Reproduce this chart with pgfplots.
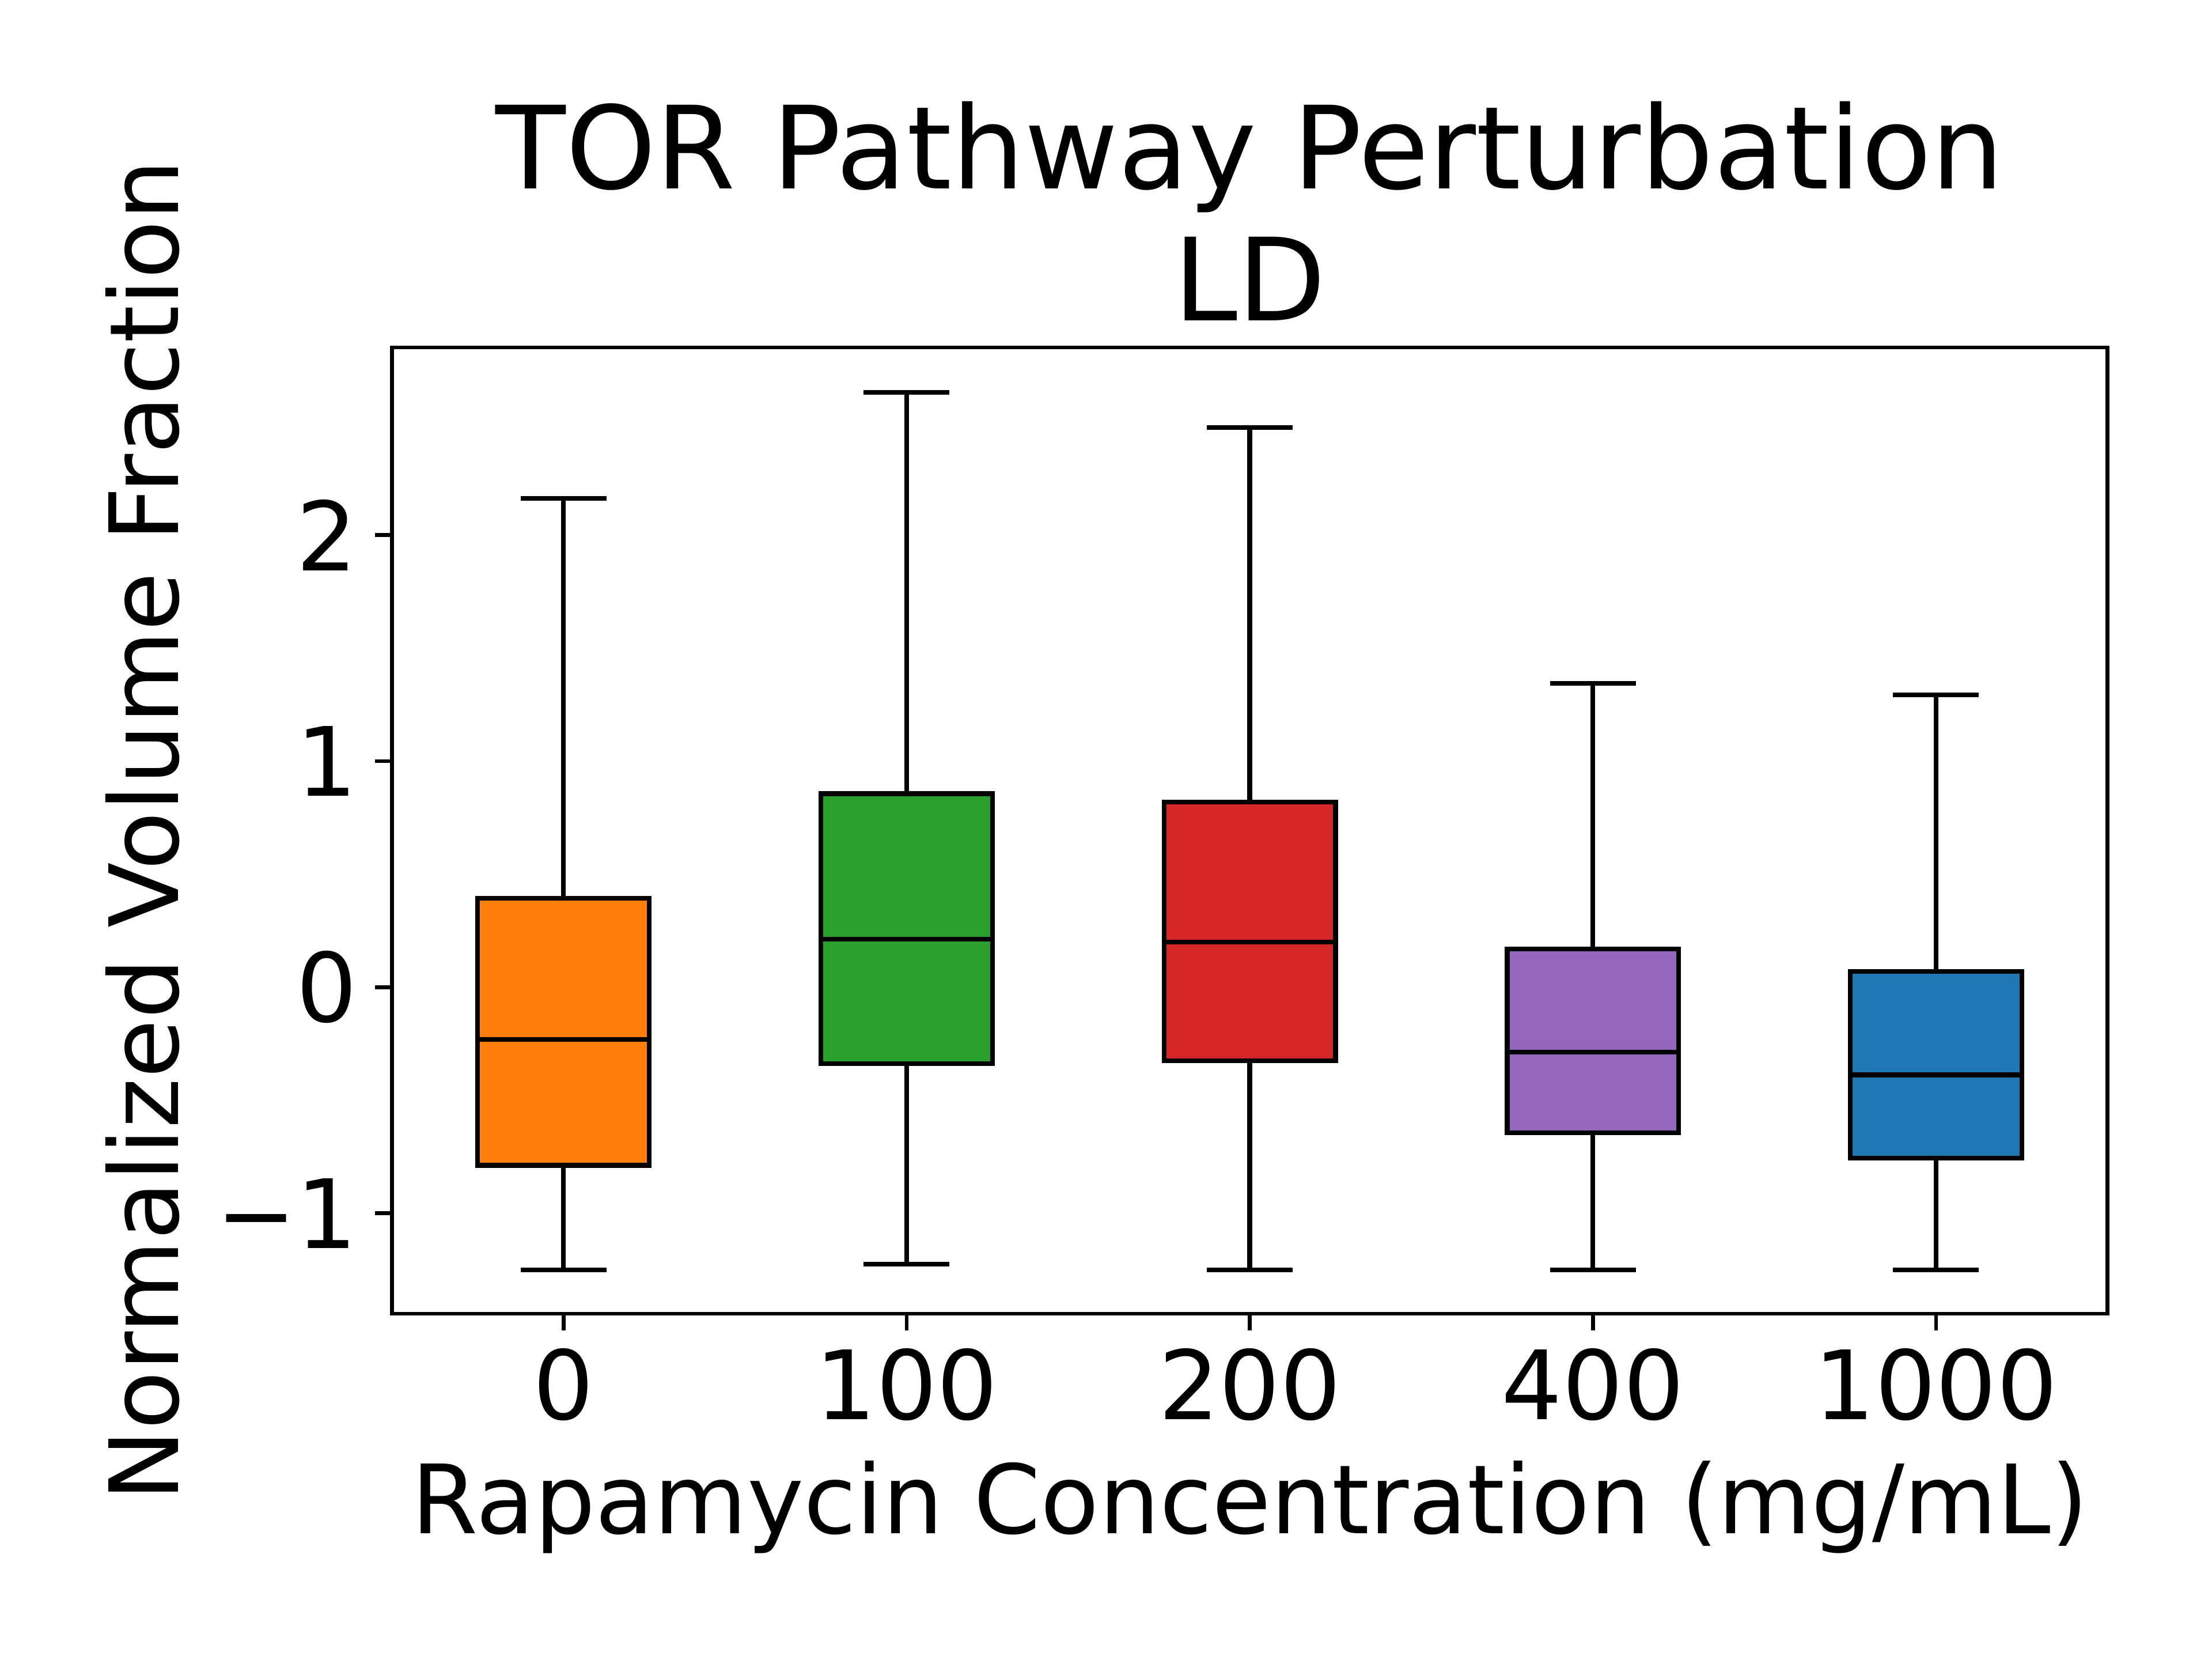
\documentclass[border=0pt]{standalone}
\usepackage{fontspec}
\setmainfont{DejaVu Sans}
\usepackage{pgfplots}
\pgfplotsset{compat=1.18}
\usepgfplotslibrary{statistics}
\definecolor{cA}{HTML}{FF7F0E}
\definecolor{cB}{HTML}{2CA02C}
\definecolor{cC}{HTML}{D62728}
\definecolor{cD}{HTML}{9467BD}
\definecolor{cE}{HTML}{1F77B4}
\begin{document}
\begin{tikzpicture}
\begin{axis}[
  at={(0,0)}, anchor=south west,
  scale only axis,
  width=4.964in, height=2.795in,
  xmin=-0.5, xmax=4.5, ymin=-1.444, ymax=2.83,
  xtick={0,1,2,3,4},
  xticklabels={0,100,200,400,1000},
  ytick={-1,0,1,2},
  yticklabels={−1,0,1,2},
  tick align=outside,
  major tick length=3.5pt,
  every tick/.style={black, line width=0.8pt},
  xtick pos=bottom, ytick pos=left,
  axis line style={line width=0.8pt},
  tick label style={font=\fontsize{20}{24}\selectfont},
  xticklabel style={inner sep=0pt, anchor=north, yshift=-3.5pt},
  yticklabel style={inner sep=0pt, anchor=east, xshift=-3.5pt},
  title={TOR Pathway Perturbation\\LD},
  title style={font=\fontsize{24}{27.6}\selectfont, align=center, at={(rel axis cs:0.5,1)}, anchor=south, inner sep=0pt, yshift=-0.6pt},
  xlabel={Rapamycin Concentration (mg/mL)},
  xlabel style={font=\fontsize{20}{24}\selectfont, at={(rel axis cs:0.5,0)}, anchor=base, inner sep=0pt, yshift=-46pt},
  ylabel={Normalized Volume Fraction},
  ylabel style={font=\fontsize{20}{24}\selectfont, at={(rel axis cs:0,0.5)}, anchor=base, inner sep=0pt, yshift=44.7pt},
  boxplot/draw direction=y,
  boxplot/box extend=0.5,
  boxplot/whisker extend=0.25,
]
\addplot[draw=black, fill=cA, line width=1pt, boxplot prepared={draw position=0,
  lower whisker=-1.25, lower quartile=-0.7875, median=-0.231, upper quartile=0.394, upper whisker=2.1625}] coordinates {};
\addplot[draw=black, fill=cB, line width=1pt, boxplot prepared={draw position=1,
  lower whisker=-1.225, lower quartile=-0.3375, median=0.2125, upper quartile=0.856, upper whisker=2.631}] coordinates {};
\addplot[draw=black, fill=cC, line width=1pt, boxplot prepared={draw position=2,
  lower whisker=-1.25, lower quartile=-0.325, median=0.2, upper quartile=0.819, upper whisker=2.475}] coordinates {};
\addplot[draw=black, fill=cD, line width=1pt, boxplot prepared={draw position=3,
  lower whisker=-1.25, lower quartile=-0.644, median=-0.2875, upper quartile=0.169, upper whisker=1.344}] coordinates {};
\addplot[draw=black, fill=cE, line width=1pt, boxplot prepared={draw position=4,
  lower whisker=-1.25, lower quartile=-0.756, median=-0.3875, upper quartile=0.069, upper whisker=1.294}] coordinates {};
\end{axis}
\path[use as bounding box] (-1.134in,-1.0in) rectangle (5.266in,3.8in);
\end{tikzpicture}
\end{document}
